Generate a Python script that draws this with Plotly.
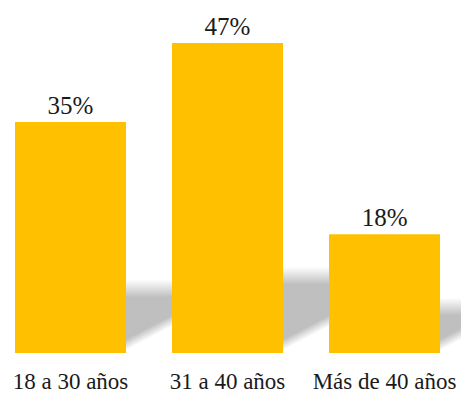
import plotly.graph_objects as go

categories = ["18 a 30 años", "31 a 40 años", "Más de 40 años"]
values = [35, 47, 18]
labels = ["35%", "47%", "18%"]

BAR_COLOR = "#FFC000"
FONT = "Liberation Serif"
TEXT_COLOR = "#1a1a1a"
BAR_WIDTH = 0.707

fig = go.Figure()
fig.add_trace(go.Bar(
    x=list(range(len(categories))),
    y=values,
    text=labels,
    textposition="outside",
    textfont=dict(family=FONT, size=25, color=TEXT_COLOR),
    marker=dict(color=BAR_COLOR, line=dict(width=0)),
    width=BAR_WIDTH,
    cliponaxis=False,
    hoverinfo="skip",
))

# soft cast shadows behind the bars (decoration derived from bar positions/values)
shapes = []
N = 16
for i, v in enumerate(values):
    xr = i + BAR_WIDTH / 2
    top = 0.161 * v + 2.9
    x0, x1 = xr - 0.05, xr + 0.45
    slope = 12.5
    for k in range(N):
        f = k / (N - 1)
        t = top + 2.5 * (1 - f)
        b = 0.4 + 1.6 * f
        path = (f"M {x0},{b - 0.05 * slope} L {x1},{b + (x1 - xr) * slope} "
                f"L {x1},{t} L {x0},{t} Z")
        shapes.append(dict(type="path", path=path, xref="x", yref="y",
                           fillcolor="rgba(0,0,0,0.0145)", line=dict(width=0),
                           layer="below"))

fig.update_layout(
    width=461, height=394,
    margin=dict(l=0, r=0, t=0, b=38),
    paper_bgcolor="white", plot_bgcolor="white",
    showlegend=False,
    shapes=shapes,
    bargap=0.293,
    xaxis=dict(
        range=[-0.449, 2.487],
        tickmode="array",
        tickvals=list(range(len(categories))),
        ticktext=categories,
        tickfont=dict(family=FONT, size=23, color=TEXT_COLOR),
        showgrid=False, zeroline=False, showline=False, ticks="",
        ticklabelstandoff=12,
        fixedrange=True,
    ),
    yaxis=dict(range=[0, 53.5], visible=False, fixedrange=True),
)

fig.write_html("out.html")
